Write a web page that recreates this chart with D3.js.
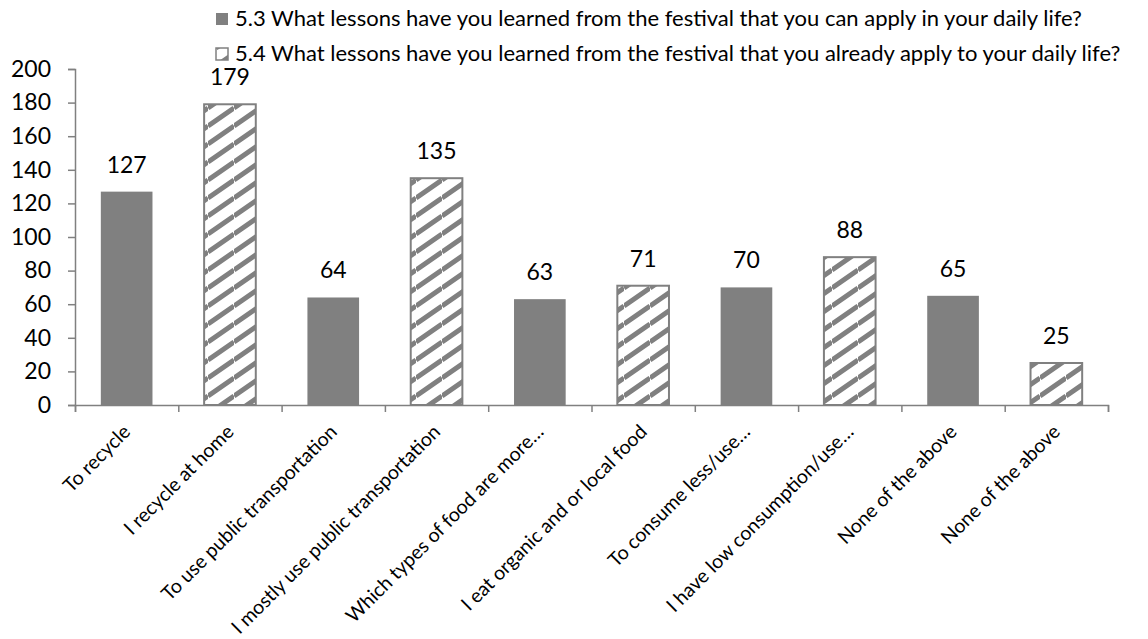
<!DOCTYPE html>
<html>
<head>
<meta charset="utf-8">
<script src="https://cdn.jsdelivr.net/npm/d3@7"></script>
<style>
  body { margin: 0; background: #fff; }
  text { font-family: Lato, "Open Sans", sans-serif; fill: #000; }
</style>
</head>
<body>
<script>

// chart data
var categories = ["To recycle", "I recycle at home", "To use public transportation",
  "I mostly use public transportation", "Which types of food are more\u2026",
  "I eat organic and or local food", "To consume less/use\u2026",
  "I have low consumption/use\u2026", "None of the above", "None of the above"];
var values = [127, 179, 64, 135, 63, 71, 70, 88, 65, 25];
var seriesOf = [0, 1, 0, 1, 0, 1, 0, 1, 0, 1]; // which question each bar belongs to
var seriesNames = [
  "5.3 What lessons have you learned from the festival that you can apply in your daily life?",
  "5.4 What lessons have you learned from the festival that you already apply to your daily life?"];
var yTicks = [0, 20, 40, 60, 80, 100, 120, 140, 160, 180, 200];

var width = 1148, height = 639;
var x0 = 75, x1 = 1108, yZero = 405, yTop = 69;
var grey = "#808080";

var svg = d3.select("body").append("svg")
    .attr("width", width)
    .attr("height", height);

// hatch pattern for the second series
var defs = svg.append("defs");
var pw = 26, ph = 18;
defs.append("pattern")
    .attr("id", "hatch")
    .attr("patternUnits", "userSpaceOnUse")
    .attr("width", pw)
    .attr("height", ph)
  .append("path")
    .attr("d", "M0,0L" + pw + "," + (-ph) + "M0," + ph + "L" + pw + ",0M0," + (2*ph) + "L" + pw + "," + ph)
    .attr("stroke", grey)
    .attr("stroke-width", 5);

var xScale = d3.scaleBand()
    .domain(d3.range(categories.length))
    .range([x0, x1])
    .paddingInner(0.5)
    .paddingOuter(0.25);

var yScale = d3.scaleLinear()
    .domain([0, 200])
    .range([yZero, yTop]);

// y axis
var yAxis = svg.append("g")
    .attr("transform", "translate(" + x0 + ",0)")
    .call(d3.axisLeft(yScale).tickValues(yTicks).tickSize(7).tickPadding(17));
yAxis.selectAll("line, path").attr("stroke", grey).attr("stroke-width", 1.5);
yAxis.selectAll("text").style("font-size", "23px").attr("fill", "#000");

// x axis: ticks at the band boundaries
var xLin = d3.scaleLinear().domain([0, categories.length]).range([x0, x1]);
var xAxis = svg.append("g")
    .attr("transform", "translate(0," + yZero + ")")
    .call(d3.axisBottom(xLin).tickValues(d3.range(categories.length + 1)).tickSize(7).tickFormat(""));
xAxis.selectAll("line, path").attr("stroke", grey).attr("stroke-width", 1.5);

// category labels, rotated
svg.append("g").selectAll("text")
    .data(categories)
    .enter().append("text")
    .attr("transform", function(d, i) {
      var cx = xScale(i) + xScale.bandwidth() / 2;
      return "translate(" + (cx + 5) + "," + (yZero + 28) + ") rotate(-45)";
    })
    .attr("text-anchor", "end")
    .style("font-size", "19.5px")
    .text(function(d) { return d; });

// bars
svg.append("g").selectAll("rect")
    .data(values)
    .enter().append("rect")
    .attr("x", function(d, i) { return xScale(i); })
    .attr("y", function(d) { return yScale(d); })
    .attr("width", xScale.bandwidth())
    .attr("height", function(d) { return yZero - yScale(d); })
    .attr("fill", function(d, i) { return seriesOf[i] == 0 ? grey : "url(#hatch)"; })
    .attr("stroke", function(d, i) { return seriesOf[i] == 0 ? "none" : grey; })
    .attr("stroke-width", 2);

// value labels
svg.append("g").selectAll("text")
    .data(values)
    .enter().append("text")
    .attr("x", function(d, i) { return xScale(i) + xScale.bandwidth() / 2; })
    .attr("y", function(d) { return yScale(d) - 19; })
    .attr("text-anchor", "middle")
    .style("font-size", "23px")
    .text(function(d) { return d; });

// legend
var legend = svg.append("g").selectAll("g")
    .data(seriesNames)
    .enter().append("g")
    .attr("transform", function(d, i) { return "translate(216," + (13 + i * 35) + ")"; });
legend.append("rect")
    .attr("width", 12)
    .attr("height", 12)
    .attr("fill", function(d, i) { return i == 0 ? grey : "url(#hatch)"; })
    .attr("stroke", function(d, i) { return i == 0 ? "none" : grey; })
    .attr("stroke-width", 1.5);
legend.append("text")
    .attr("x", 19)
    .attr("y", 13)
    .style("font-size", "22px")
    .text(function(d) { return d; });

</script>
</body>
</html>
